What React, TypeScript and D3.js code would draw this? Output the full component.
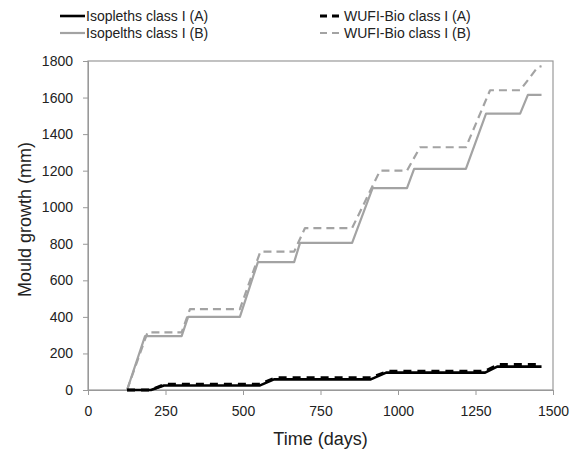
import React, { useEffect, useRef } from "react";
import * as d3 from "d3";

// Isopleths class I (B) – grey solid
const isoBDays = [126, 184, 302, 323, 490, 548, 665, 684, 852, 918, 1029, 1052, 1219, 1284, 1394, 1419, 1463];
const isoBVals = [0, 295, 295, 400, 400, 700, 700, 805, 805, 1105, 1105, 1210, 1210, 1512, 1512, 1615, 1615];

// WUFI-Bio class I (B) – grey dashed
const wufiBDays = [126, 192, 302, 329, 490, 556, 665, 700, 852, 942, 1029, 1071, 1219, 1297, 1394, 1450, 1463];
const wufiBVals = [0, 315, 315, 443, 443, 757, 757, 886, 886, 1200, 1200, 1328, 1328, 1640, 1640, 1765, 1772];

// Isopleths class I (A) – black solid
const isoADays = [126, 203, 245, 555, 600, 912, 962, 1281, 1320, 1463];
const isoAVals = [0, 0, 25, 25, 58, 58, 95, 95, 128, 128];

// WUFI-Bio class I (A) – black dashed
const wufiADays = [126, 203, 248, 555, 605, 912, 968, 1281, 1325, 1463];
const wufiAVals = [0, 0, 32, 32, 67, 67, 103, 103, 140, 140];

const xTicks = [0, 250, 500, 750, 1000, 1250, 1500];
const yTicks = [0, 200, 400, 600, 800, 1000, 1200, 1400, 1600, 1800];

const seriesNames = [
  "Isopleths class I (A)",
  "WUFI-Bio class I (A)",
  "Isopelths class I (B)",
  "WUFI-Bio class I (B)",
];

const W = 574;
const H = 450;
const FONT = "'Liberation Sans', Arial, sans-serif";

export default function App() {
  const ref = useRef<SVGSVGElement>(null);

  useEffect(() => {
    const svg = d3.select(ref.current);
    svg.selectAll("*").remove();

    const left = 88, right = 553, top = 61, bottom = 390;
    const x = d3.scaleLinear().domain([0, 1500]).range([left, right]);
    const y = d3.scaleLinear().domain([0, 1800]).range([bottom, top]);
    const axisColor = "#999999";
    const grey = "#a3a3a3";

    // plot frame
    svg.append("rect")
      .attr("x", left).attr("y", top)
      .attr("width", right - left).attr("height", bottom - top)
      .attr("fill", "none").attr("stroke", axisColor).attr("stroke-width", 1.2);

    // y axis
    const yAxis = d3.axisLeft(y).tickValues(yTicks).tickSize(5).tickPadding(10).tickFormat(d3.format("d"));
    const gy = svg.append("g").attr("transform", `translate(${left},0)`).call(yAxis);
    gy.select(".domain").attr("stroke", axisColor);
    gy.selectAll(".tick line").attr("stroke", axisColor);
    gy.selectAll(".tick text").attr("font-family", FONT).attr("font-size", 14).attr("fill", "#222");

    // x axis
    const xAxis = d3.axisBottom(x).tickValues(xTicks).tickSize(5).tickPadding(11).tickFormat(d3.format("d"));
    const gx = svg.append("g").attr("transform", `translate(0,${bottom})`).call(xAxis);
    gx.select(".domain").attr("stroke", axisColor);
    gx.selectAll(".tick line").attr("stroke", axisColor);
    gx.selectAll(".tick text").attr("font-family", FONT).attr("font-size", 14).attr("fill", "#222");

    // axis titles
    svg.append("text")
      .attr("x", (left + right) / 2).attr("y", 445)
      .attr("text-anchor", "middle").attr("font-family", FONT).attr("font-size", 18).attr("fill", "#222")
      .text("Time (days)");
    svg.append("text")
      .attr("transform", `translate(31,${(top + bottom) / 2 - 6}) rotate(-90)`)
      .attr("text-anchor", "middle").attr("font-family", FONT).attr("font-size", 18).attr("fill", "#222")
      .text("Mould growth (mm)");

    const line = d3.line<[number, number]>().x((d) => x(d[0])).y((d) => y(d[1]));
    const zip = (a: number[], b: number[]) => a.map((v, i) => [v, b[i]] as [number, number]);

    const series = [
      { data: zip(isoBDays, isoBVals), color: grey, width: 2.2, dash: null },
      { data: zip(wufiBDays, wufiBVals), color: grey, width: 2.2, dash: "8,5" },
      { data: zip(isoADays, isoAVals), color: "#000", width: 2.6, dash: null },
      { data: zip(wufiADays, wufiAVals), color: "#000", width: 3, dash: "8,6" },
    ];
    series.forEach((s) => {
      svg.append("path")
        .attr("d", line(s.data))
        .attr("fill", "none")
        .attr("stroke", s.color)
        .attr("stroke-width", s.width)
        .attr("stroke-dasharray", s.dash)
        .attr("stroke-linejoin", "round");
    });

    // legend
    const legend = [
      { name: seriesNames[0], x0: 60, x1: 85, y: 16, color: "#000", width: 2.6, dash: null },
      { name: seriesNames[1], x0: 320, x1: 343, y: 16, color: "#000", width: 3, dash: "7,5" },
      { name: seriesNames[2], x0: 60, x1: 85, y: 33, color: grey, width: 2.2, dash: null },
      { name: seriesNames[3], x0: 320, x1: 343, y: 33, color: grey, width: 2.2, dash: "7,5" },
    ];
    legend.forEach((l) => {
      svg.append("line")
        .attr("x1", l.x0).attr("x2", l.x1).attr("y1", l.y).attr("y2", l.y)
        .attr("stroke", l.color).attr("stroke-width", l.width).attr("stroke-dasharray", l.dash);
      svg.append("text")
        .attr("x", l.x1 + 1).attr("y", l.y).attr("dy", "0.35em")
        .attr("font-family", FONT).attr("font-size", 14).attr("fill", "#222")
        .text(l.name);
    });
  }, []);

  return (
    <svg
      ref={ref}
      width={W}
      height={H}
      style={{ position: "absolute", left: 0, top: 0, background: "#fff" }}
    />
  );
}
